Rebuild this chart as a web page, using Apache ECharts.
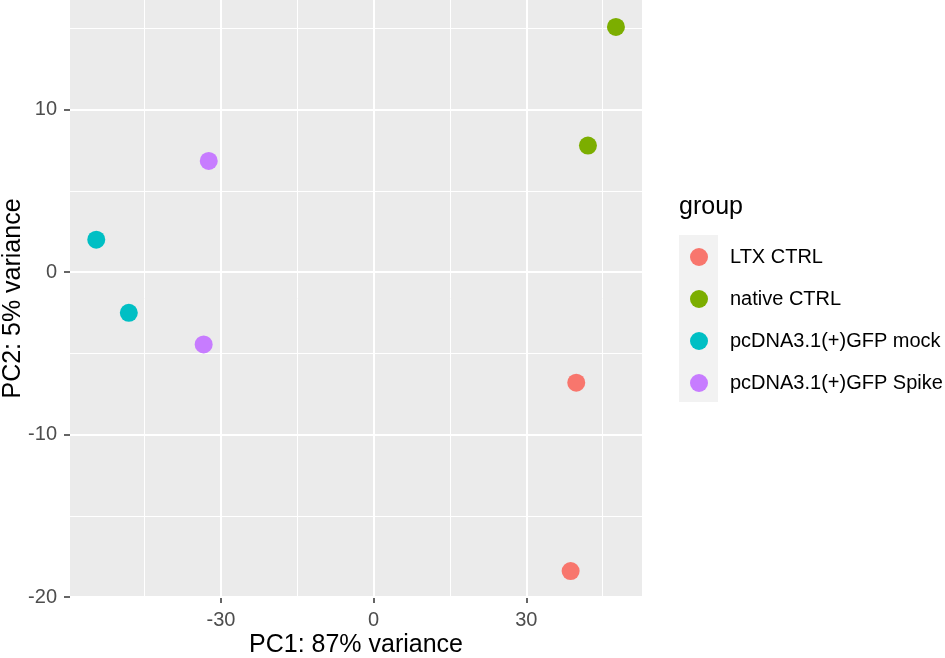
<!DOCTYPE html>
<html>
<head>
<meta charset="utf-8">
<script src="https://cdn.jsdelivr.net/npm/echarts@6/dist/echarts.min.js"></script>
<style>
html,body{margin:0;padding:0;background:#fff;}
#chart{width:945px;height:658px;}
</style>
</head>
<body>
<div id="chart"></div>
<script>
// ---- data ----
const groups = ["LTX CTRL", "native CTRL", "pcDNA3.1(+)GFP mock", "pcDNA3.1(+)GFP Spike"];
const groupColors = ["#F8766D", "#7CAE00", "#00BFC4", "#C77CFF"];
const ltxCtrl = [[39.8, -6.8], [38.7, -18.4]];
const nativeCtrl = [[47.6, 15.1], [42.1, 7.8]];
const gfpMock = [[-54.5, 2.0], [-48.1, -2.5]];
const gfpSpike = [[-32.4, 6.85], [-33.4, -4.45]];
const seriesData = [ltxCtrl, nativeCtrl, gfpMock, gfpSpike];

const xTicks = [-30, 0, 30];
const xMinor = [-45, -15, 15, 45];
const yTicks = [-20, -10, 0, 10];
const yMinor = [-15, -5, 5, 15];
const xRange = [-59.66, 52.72];
const yRange = [-20.0, 16.76];

const FONT = '"Liberation Sans", Arial, sans-serif';

const gridLines = [];
xMinor.forEach(v => gridLines.push({xAxis: v, lineStyle: {width: 1, color: '#ffffff', type: 'solid'}}));
yMinor.forEach(v => gridLines.push({yAxis: v, lineStyle: {width: 1, color: '#ffffff', type: 'solid'}}));
xTicks.forEach(v => gridLines.push({xAxis: v, lineStyle: {width: 2, color: '#ffffff', type: 'solid'}}));
yTicks.forEach(v => gridLines.push({yAxis: v, lineStyle: {width: 2, color: '#ffffff', type: 'solid'}}));

const series = [{
  name: '__grid',
  type: 'scatter',
  data: [],
  z: 1,
  silent: true,
  markLine: {
    silent: true,
    z: 1,
    symbol: ['none', 'none'],
    label: {show: false},
    animation: false,
    data: gridLines
  }
}];
groups.forEach((g, i) => {
  series.push({
    name: g,
    type: 'scatter',
    data: seriesData[i],
    symbol: 'circle',
    symbolSize: 18,
    z: 3,
    itemStyle: {color: groupColors[i], opacity: 1},
    emphasis: {disabled: true}
  });
});

const axisCommon = {
  type: 'value',
  nameLocation: 'middle',
  nameMoveOverlap: false,
  nameTextStyle: {fontFamily: FONT, fontSize: 25, color: '#000000'},
  axisLine: {show: false, onZero: false},
  splitLine: {show: false},
  minorSplitLine: {show: false}
};

const chart = echarts.init(document.getElementById('chart'), null, {renderer: 'canvas'});
chart.setOption({
  animation: false,
  color: groupColors,
  title: {
    text: 'group',
    left: 679,
    top: 195,
    padding: 0,
    textStyle: {fontFamily: FONT, fontSize: 25, fontWeight: 'normal', color: '#000000', lineHeight: 25}
  },
  graphic: [{
    type: 'rect',
    left: 679,
    top: 235,
    shape: {width: 39, height: 167},
    style: {fill: '#F2F2F2'},
    z: 0
  }],
  legend: {
    data: groups,
    orient: 'vertical',
    left: 690,
    top: 247,
    padding: 0,
    itemWidth: 52,
    itemHeight: 18,
    itemGap: 22,
    icon: 'circle',
    symbolKeepAspect: true,
    selectedMode: false,
    textStyle: {fontFamily: FONT, fontSize: 20, color: '#000000'}
  },
  grid: {
    left: 70,
    top: 0,
    width: 572,
    height: 597,
    show: true,
    backgroundColor: '#EBEBEB',
    borderWidth: 0,
    containLabel: false,
    outerBoundsMode: 'none'
  },
  xAxis: Object.assign({}, axisCommon, {
    min: xRange[0],
    max: xRange[1],
    name: 'PC1: 87% variance',
    nameGap: 36,
    axisTick: {show: true, inside: false, length: 6, customValues: xTicks, lineStyle: {color: '#333333', width: 1.5, opacity: 1}},
    axisLabel: {show: true, margin: 13, customValues: xTicks, fontFamily: FONT, fontSize: 20, color: '#4D4D4D'}
  }),
  yAxis: Object.assign({}, axisCommon, {
    min: yRange[0],
    max: yRange[1],
    name: 'PC2: 5% variance',
    nameGap: 44,
    axisTick: {show: true, inside: false, length: 6, customValues: yTicks, lineStyle: {color: '#333333', width: 1.5, opacity: 1}},
    axisLabel: {show: true, margin: 13, customValues: yTicks, fontFamily: FONT, fontSize: 20, color: '#4D4D4D'}
  }),
  series: series
});
</script>
</body>
</html>
